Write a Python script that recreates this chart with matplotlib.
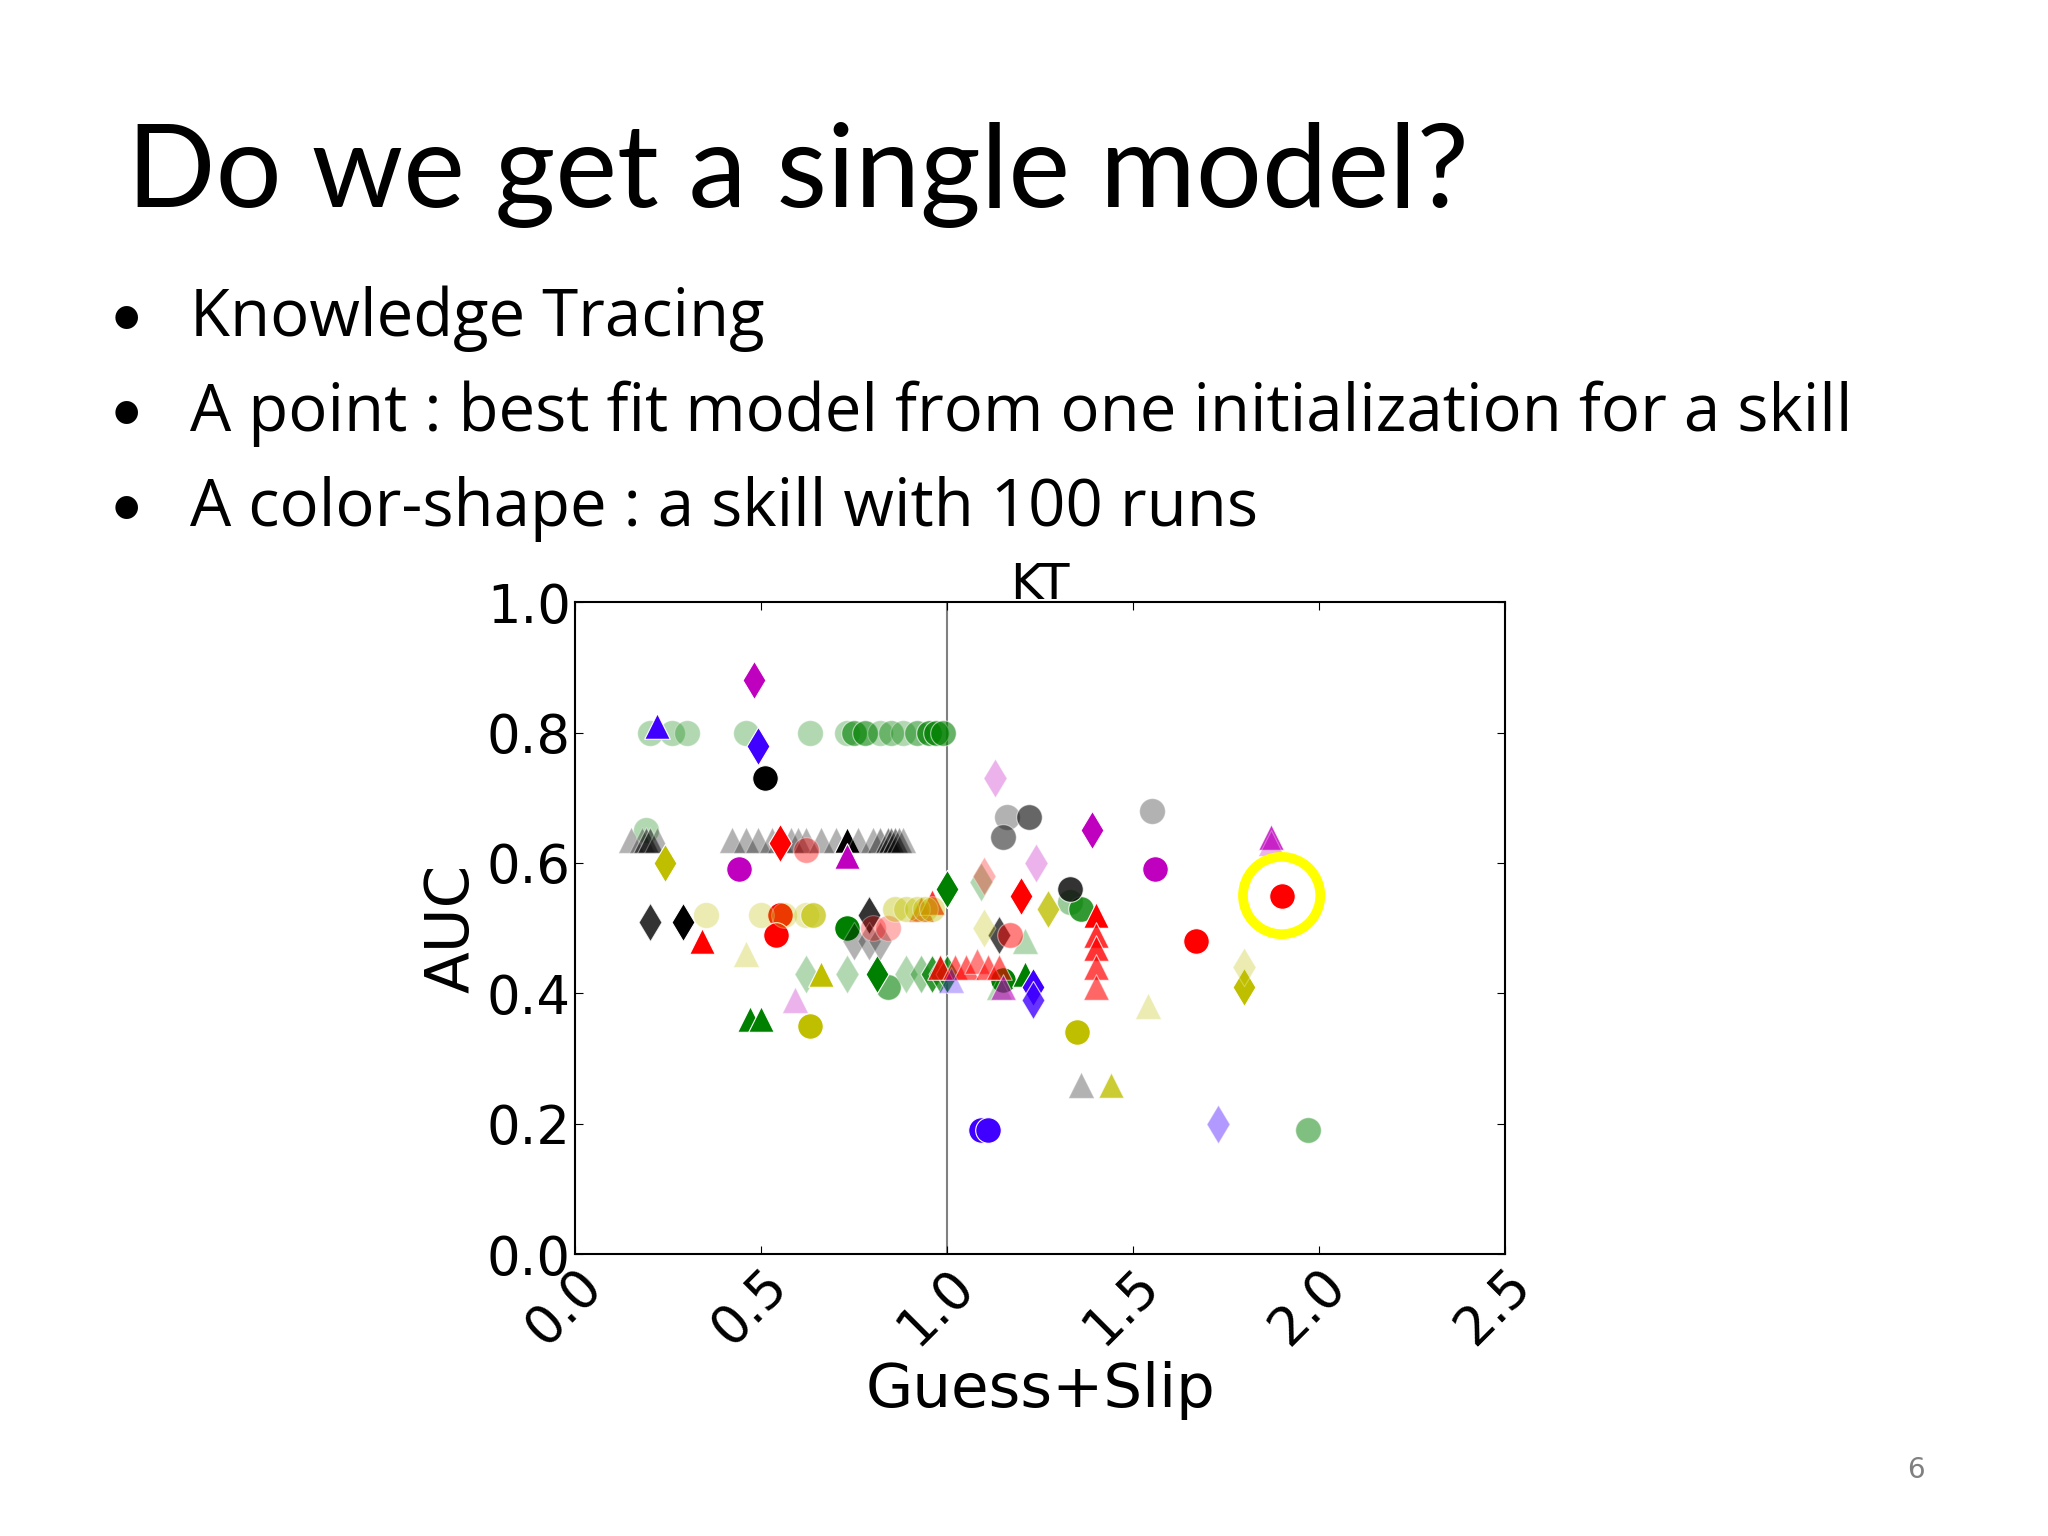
import matplotlib.pyplot as plt

# (x, y, alpha) lists per colour/marker series
olive = (0.75, 0.75, 0.0)
series = [
    # colour, marker, points
    ('g', 'o', [(0.2, 0.8, .3), (0.26, 0.8, .3), (0.3, 0.8, .3), (0.46, 0.8, .3), (0.63, 0.8, .3),
                (0.73, 0.8, .3), (0.75, 0.8, .6), (0.78, 0.8, .6), (0.82, 0.8, .3), (0.85, 0.8, .4),
                (0.88, 0.8, .3), (0.92, 0.8, .5), (0.95, 0.8, .7), (0.97, 0.8, .7), (0.99, 0.8, .6),
                (0.19, 0.65, .3), (0.73, 0.5, 1.0), (0.84, 0.41, .6), (1.15, 0.42, 1.0),
                (1.33, 0.54, .4), (1.36, 0.53, .8), (1.97, 0.19, .5)]),
    ('g', 'd', [(0.62, 0.43, .3), (0.73, 0.43, .3), (0.81, 0.43, 1.0), (0.89, 0.43, .3), (0.93, 0.43, .4),
                (0.96, 0.43, .8), (0.98, 0.43, .7), (1.0, 0.43, .8), (1.0, 0.56, 1.0), (1.09, 0.57, .3)]),
    ('g', '^', [(0.47, 0.36, 1.0), (0.5, 0.36, 1.0), (1.21, 0.43, 1.0), (1.21, 0.48, .3), (1.14, 0.41, .3)]),
    ('k', '^', [(0.15, 0.635, .3), (0.18, 0.635, .3), (0.19, 0.635, .5), (0.2, 0.635, .5), (0.22, 0.635, .3),
                (0.42, 0.635, .3), (0.46, 0.635, .3), (0.49, 0.635, .3), (0.53, 0.635, .3), (0.55, 0.635, .3),
                (0.58, 0.635, .3), (0.6, 0.635, .3), (0.62, 0.635, .3), (0.66, 0.635, .3), (0.7, 0.635, .3),
                (0.73, 0.635, 1.0), (0.76, 0.635, .3), (0.8, 0.635, .3), (0.82, 0.635, .4), (0.84, 0.635, .5),
                (0.85, 0.635, .5), (0.86, 0.635, .5), (0.87, 0.635, .4), (0.88, 0.635, .3), (1.36, 0.26, .3)]),
    ('k', 'd', [(0.2, 0.51, .8), (0.29, 0.51, 1.0), (0.79, 0.52, .8), (0.75, 0.48, .3), (0.79, 0.48, .3),
                (0.82, 0.48, .3), (1.14, 0.49, .7)]),
    ('k', 'o', [(0.51, 0.73, 1.0), (1.33, 0.56, .8), (1.16, 0.67, .3), (1.22, 0.67, .6), (1.15, 0.64, .5),
                (1.55, 0.68, .3)]),
    ('r', 'd', [(0.55, 0.63, 1.0), (1.2, 0.55, 1.0), (1.1, 0.58, .3)]),
    ('r', 'o', [(0.55, 0.52, 1.0), (0.54, 0.49, 1.0), (0.62, 0.62, .4), (0.8, 0.5, .3), (0.84, 0.5, .3),
                (1.17, 0.49, .5), (1.67, 0.48, 1.0), (1.9, 0.55, 1.0)]),
    ('r', '^', [(0.34, 0.48, 1.0), (0.93, 0.53, .7), (0.96, 0.54, .8), (0.98, 0.44, .8), (1.02, 0.44, .6),
                (1.05, 0.44, .6), (1.08, 0.45, .5), (1.11, 0.44, .6), (1.14, 0.44, .6),
                (1.4, 0.52, 1.0), (1.4, 0.49, .8), (1.4, 0.47, .8), (1.4, 0.44, .7), (1.4, 0.41, .6)]),
    ('m', 'd', [(0.48, 0.88, 1.0), (1.39, 0.65, 1.0), (1.13, 0.73, .3), (1.24, 0.6, .3)]),
    ('m', 'o', [(0.44, 0.59, 1.0), (1.56, 0.59, 1.0)]),
    ('m', '^', [(0.73, 0.61, 1.0), (1.87, 0.64, .8), (1.87, 0.63, .3), (0.59, 0.39, .3), (1.15, 0.41, .6)]),
    ('#4000ff', '^', [(0.22, 0.81, 1.0), (1.01, 0.42, .3)]),
    ('#4000ff', 'd', [(0.49, 0.78, 1.0), (1.23, 0.41, 1.0), (1.23, 0.39, .8), (1.73, 0.2, .4)]),
    ('#4000ff', 'o', [(1.09, 0.19, 1.0), (1.11, 0.19, 1.0)]),
    (olive, 'd', [(0.24, 0.6, 1.0), (1.27, 0.53, .8), (1.8, 0.41, 1.0), (1.8, 0.44, .3), (1.1, 0.5, .3)]),
    (olive, 'o', [(0.35, 0.52, .3), (0.5, 0.52, .3), (0.56, 0.52, .3), (0.62, 0.52, .3), (0.64, 0.52, .7),
                  (0.86, 0.53, .4), (0.89, 0.53, .4), (0.92, 0.53, .4), (0.94, 0.53, .4), (0.96, 0.53, .4),
                  (0.63, 0.35, 1.0), (1.35, 0.34, 1.0)]),
    (olive, '^', [(0.66, 0.43, 1.0), (0.46, 0.46, .3), (1.44, 0.26, .8), (1.54, 0.38, .3)]),
]
highlight = (1.9, 0.55)

plt.rcParams['font.family'] = ['Lato', 'DejaVu Sans']
fig = plt.figure(figsize=(20.48, 15.36), dpi=100)

fig.text(0.062, 0.865, 'Do we get a single model?', fontsize=84, va='baseline')
bullets = ['Knowledge Tracing',
           'A point : best fit model from one initialization for a skill',
           'A color-shape : a skill with 100 runs']
for i, b in enumerate(bullets):
    y = 0.781 - i * 0.0617
    fig.text(0.053, y, '•', fontsize=44, va='baseline')
    fig.text(0.093, y, b, fontsize=47, va='baseline', family='Open Sans')
fig.text(0.931, 0.038, '6', fontsize=20, color='gray', family='DejaVu Sans')

ax = fig.add_axes([0.281, 0.1835, 0.4537, 0.4245])
ax.axvline(1.0, color='gray', lw=1.5, zorder=0)
for color, marker, pts in series:
    for x, y, a in pts:
        ax.scatter(x, y, s=340 if marker != 'd' else 380, c=[color], marker=marker,
                   alpha=a, edgecolors='white', linewidths=0.8, zorder=2)
ax.scatter(*highlight, s=3100, facecolors='none', edgecolors='yellow', linewidths=7, zorder=3)

ax.set_xlim(0, 2.5)
ax.set_ylim(0, 1.0)
ax.set_xticks([0, 0.5, 1.0, 1.5, 2.0, 2.5])
ax.set_yticks([0, 0.2, 0.4, 0.6, 0.8, 1.0])
ax.tick_params(direction='in', top=True, right=True, length=6, labelsize=38)
for lbl in ax.get_xticklabels() + ax.get_yticklabels():
    lbl.set_family('DejaVu Sans')
plt.setp(ax.get_xticklabels(), rotation=45, ha='right', rotation_mode='anchor')
ax.set_title('KT', fontsize=36, family='DejaVu Sans', pad=2)
ax.set_xlabel('Guess+Slip', fontsize=44, family='DejaVu Sans')
ax.set_ylabel('AUC', fontsize=44, family='DejaVu Sans')
for s in ax.spines.values():
    s.set_linewidth(1.5)

fig.savefig('out.png', dpi=100)
